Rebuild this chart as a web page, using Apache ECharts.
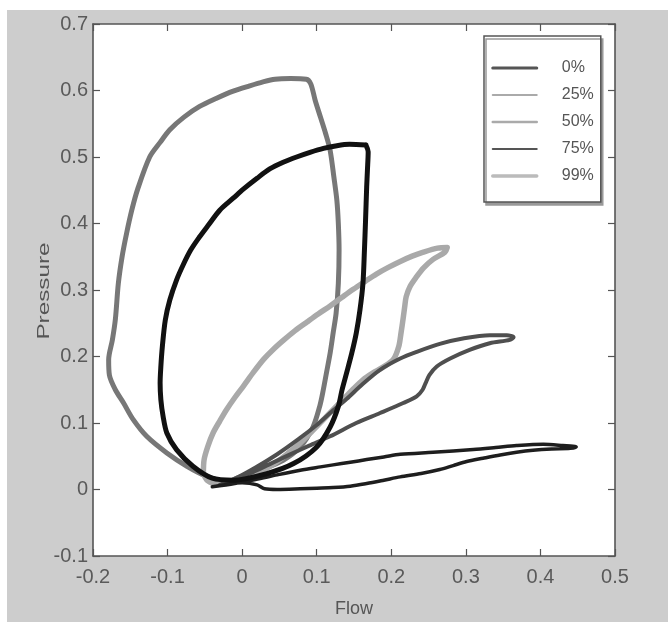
<!DOCTYPE html>
<html>
<head>
<meta charset="utf-8">
<script src="https://cdn.jsdelivr.net/npm/echarts@6/dist/echarts.min.js"></script>
<style>
  html, body { margin: 0; padding: 0; background: #fff; }
  #chart { width: 672px; height: 625px; }
</style>
</head>
<body>
<div id="chart"></div>
<script>
// Pressure–flow loops, one per occlusion level. Each point is [flow, pressure].
const levels = ['0%', '25%', '50%', '75%', '99%'];

const loop0 = [
  [-0.020,0.010],[-0.048,0.020],[-0.074,0.035],[-0.101,0.055],[-0.128,0.080],[-0.146,0.105],
  [-0.159,0.130],[-0.170,0.150],[-0.178,0.172],[-0.179,0.195],[-0.174,0.225],[-0.170,0.256],
  [-0.166,0.310],[-0.161,0.350],[-0.155,0.385],[-0.148,0.420],[-0.140,0.452],[-0.124,0.500],
  [-0.110,0.522],[-0.097,0.541],[-0.078,0.560],[-0.057,0.576],[-0.035,0.588],[-0.012,0.599],
  [0.010,0.607],[0.028,0.613],[0.044,0.617],[0.065,0.618],[0.086,0.617],[0.092,0.610],
  [0.098,0.585],[0.105,0.560],[0.112,0.535],[0.118,0.510],[0.123,0.470],[0.127,0.435],
  [0.129,0.400],[0.130,0.360],[0.129,0.310],[0.126,0.265],[0.122,0.235],[0.118,0.205],
  [0.113,0.175],[0.108,0.145],[0.104,0.125],[0.095,0.094],[0.078,0.064],[0.055,0.044],
  [0.024,0.029],[-0.005,0.018],[-0.020,0.010]
];

const loop25 = [
  [0.166,0.518],[0.169,0.508],[0.168,0.480],[0.167,0.455],[0.1655,0.405],[0.164,0.360],
  [0.162,0.310],[0.158,0.270],[0.153,0.235],[0.147,0.205],[0.140,0.175],[0.134,0.150],
  [0.129,0.125],[0.118,0.094],[0.100,0.064],[0.069,0.039],[0.033,0.024],[-0.012,0.014],
  [-0.040,0.017],[-0.066,0.035],[-0.088,0.060],[-0.101,0.085],[-0.106,0.110],[-0.109,0.135],
  [-0.110,0.160],[-0.109,0.185],[-0.107,0.215],[-0.103,0.255],[-0.097,0.285],[-0.088,0.315],
  [-0.079,0.338],[-0.069,0.360],[-0.057,0.380],[-0.045,0.398],[-0.030,0.420],[-0.012,0.438],
  [0.002,0.452],[0.020,0.468],[0.037,0.482],[0.055,0.492],[0.073,0.500],[0.091,0.507],
  [0.109,0.513],[0.127,0.517],[0.144,0.519],[0.166,0.518]
];

const loop50 = [
  [-0.052,0.024],[-0.051,0.045],[-0.046,0.065],[-0.039,0.085],[-0.030,0.103],[-0.021,0.120],
  [-0.010,0.138],[0.002,0.156],[0.015,0.176],[0.029,0.196],[0.042,0.211],[0.056,0.225],
  [0.071,0.239],[0.087,0.252],[0.102,0.264],[0.118,0.276],[0.134,0.289],[0.149,0.301],
  [0.165,0.313],[0.180,0.324],[0.196,0.334],[0.212,0.343],[0.228,0.351],[0.243,0.357],
  [0.262,0.363],[0.275,0.364],[0.272,0.357],[0.256,0.346],[0.243,0.333],[0.234,0.320],
  [0.225,0.305],[0.220,0.290],[0.218,0.275],[0.216,0.258],[0.213,0.235],[0.210,0.215],
  [0.203,0.196],[0.189,0.184],[0.175,0.175],[0.162,0.165],[0.148,0.150],[0.135,0.135],
  [0.122,0.120],[0.109,0.105],[0.094,0.088],[0.078,0.070],[0.062,0.055],[0.046,0.041],
  [0.028,0.029],[0.010,0.019],[-0.012,0.012],[-0.034,0.009],[-0.046,0.013],[-0.052,0.024]
];

const loop75 = [
  [-0.030,0.007],[-0.010,0.016],[0.018,0.033],[0.047,0.053],[0.076,0.076],[0.100,0.097],
  [0.118,0.115],[0.140,0.136],[0.162,0.159],[0.185,0.180],[0.212,0.197],[0.234,0.207],
  [0.265,0.219],[0.296,0.227],[0.332,0.232],[0.355,0.232],[0.364,0.229],[0.359,0.225],
  [0.332,0.220],[0.305,0.210],[0.279,0.197],[0.261,0.185],[0.251,0.172],[0.246,0.160],
  [0.242,0.150],[0.234,0.140],[0.216,0.130],[0.185,0.115],[0.153,0.100],[0.118,0.080],
  [0.090,0.066],[0.063,0.052],[0.035,0.037],[0.010,0.024],[-0.012,0.014],[-0.030,0.007]
];

const loop99 = [
  [-0.040,0.004],[-0.010,0.009],[0.018,0.015],[0.047,0.022],[0.078,0.029],[0.105,0.034],
  [0.122,0.037],[0.145,0.041],[0.167,0.045],[0.190,0.049],[0.212,0.053],[0.256,0.056],
  [0.310,0.060],[0.340,0.063],[0.368,0.066],[0.404,0.068],[0.430,0.066],[0.448,0.064],
  [0.440,0.062],[0.415,0.061],[0.390,0.059],[0.368,0.056],[0.346,0.052],[0.323,0.047],
  [0.301,0.042],[0.283,0.036],[0.265,0.030],[0.240,0.024],[0.212,0.019],[0.190,0.014],
  [0.167,0.009],[0.145,0.005],[0.122,0.003],[0.100,0.002],[0.078,0.001],[0.047,0.000],
  [0.030,0.001],[0.020,0.007],[0.000,0.010],[-0.020,0.008],[-0.040,0.004]
];

const loops = [loop0, loop25, loop50, loop75, loop99];

// axis ranges and tick step
const flowRange = [-0.2, 0.5];
const pressureRange = [-0.1, 0.7];
const tickStep = 0.1;

// drawing styles
const loopColors = ['#777777', '#111111', '#a9a9a9', '#4f4f4f', '#1e1e1e'];
const loopWidths = [5, 5, 5.5, 4, 3.5];
const legendColors = ['#555555', '#aaaaaa', '#aaaaaa', '#555555', '#bbbbbb'];
const legendWidths = [3, 2, 2.5, 2, 3.5];

const face = "'Liberation Sans', Arial, sans-serif";
const axisGray = '#555';

function valueAxis(range, position, primary, extra) {
  return Object.assign({
    type: 'value',
    position: position,
    min: range[0],
    max: range[1],
    interval: tickStep,
    axisLine: { show: true, onZero: false, lineStyle: { color: axisGray, width: 1.6 } },
    axisTick: { show: true, inside: true, length: 7, lineStyle: { color: axisGray, width: 1.2 } },
    splitLine: { show: false },
    axisLabel: { show: primary }
  }, extra || {});
}

const chart = echarts.init(document.getElementById('chart'), null, { renderer: 'canvas' });

chart.setOption({
  backgroundColor: '#ffffff',
  animation: false,
  grid: {
    left: 93, right: 57, top: 24, bottom: 69,
    show: true, backgroundColor: '#ffffff', borderWidth: 0
  },
  graphic: [
    {
      type: 'rect', z: -10, silent: true,
      shape: { x: 7, y: 10, width: 661, height: 612 },
      style: { fill: '#cdcdcd' }
    },
    {
      type: 'text', x: 45, y: 291, rotation: Math.PI / 2, scaleX: 1.35, scaleY: 0.9,
      style: {
        text: 'Pressure', fontFamily: face, fontSize: 18, fill: '#555',
        align: 'center', verticalAlign: 'middle'
      }
    }
  ],
  xAxis: [
    valueAxis(flowRange, 'bottom', true, {
      name: 'Flow', nameLocation: 'middle', nameGap: 44,
      nameTextStyle: { fontFamily: face, fontSize: 18, color: '#555' },
      axisLabel: { show: true, fontFamily: face, fontSize: 20, color: '#5a5a5a', margin: 11 }
    }),
    valueAxis(flowRange, 'top', false)
  ],
  yAxis: [
    valueAxis(pressureRange, 'left', true, {
      axisLabel: { show: true, fontFamily: face, fontSize: 20, color: '#5a5a5a', margin: 5 }
    }),
    valueAxis(pressureRange, 'right', false)
  ],
  legend: {
    show: true,
    orient: 'vertical',
    left: 484, top: 36,
    padding: [24, 7, 18, 7],
    itemWidth: 44, itemHeight: 14, itemGap: 11,
    backgroundColor: '#ffffff',
    borderColor: '#555', borderWidth: 1.5,
    shadowColor: '#999', shadowOffsetX: 2, shadowOffsetY: 3, shadowBlur: 0,
    selectedMode: false,
    textStyle: { fontFamily: face, fontSize: 16, color: '#555', padding: [0, 0, 0, 20] },
    data: levels.map((name, i) => ({
      name: name,
      lineStyle: { color: legendColors[i], width: legendWidths[i] },
      itemStyle: { opacity: 0 }
    }))
  },
  series: levels.map((name, i) => ({
    name: name,
    type: 'line',
    data: loops[i],
    showSymbol: false,
    symbol: 'none',
    smooth: 0.3,
    lineStyle: { color: loopColors[i], width: loopWidths[i], join: 'round', cap: 'round' },
    itemStyle: { color: loopColors[i] },
    z: 2 + (i === 1 ? 3 : 0)
  }))
});
</script>
</body>
</html>
